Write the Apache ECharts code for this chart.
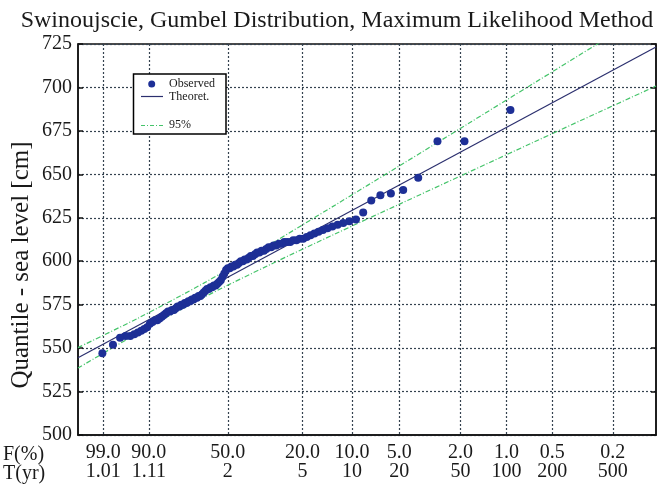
<!DOCTYPE html>
<html>
<head>
<meta charset="utf-8">
<script src="https://cdn.jsdelivr.net/npm/echarts@6/dist/echarts.min.js"></script>
<style>html,body{margin:0;padding:0;background:#fff;}#c{width:658px;height:486px;}</style>
</head>
<body>
<div id="c"></div>
<script>
// ---- data ----
const titleText = 'Swinoujscie, Gumbel Distribution, Maximum Likelihood Method';
const yAxisTitle = 'Quantile - sea level [cm]';
// exceedance probabilities of the x tick marks
const tickExceed = [0.99, 0.9, 0.5, 0.2, 0.1, 0.05, 0.02, 0.01, 0.005, 0.002];
const tickLabelsF = ['99.0', '90.0', '50.0', '20.0', '10.0', '5.0', '2.0', '1.0', '0.5', '0.2'];
const tickLabelsT = ['1.01', '1.11', '2', '5', '10', '20', '50', '100', '200', '500'];
// observed annual maxima [cm], sorted descending (rank 1 = largest)
const observed = [687, 669, 669, 648, 641, 639, 638, 635, 628, 624, 623, 622, 621, 620,
  619, 618, 617, 616, 615, 614, 613, 613, 612, 612, 611, 611, 611, 610, 610, 609, 609,
  608, 608, 607, 606, 606, 605, 605, 604, 603, 603, 602, 601, 601, 600, 600, 599, 598,
  598, 597, 597, 596, 596, 595, 593, 591, 589, 588, 587, 586, 586, 585, 585, 584, 584,
  583, 582, 581, 580, 580, 579, 579, 578, 578, 577, 577, 576, 576, 575, 575, 574, 574,
  573, 572, 572, 571, 571, 570, 569, 568, 567, 566, 566, 565, 564, 562, 561, 560, 559,
  558, 557, 557, 556, 552, 547];
// theoretical line (reduced variate, quantile)
const theoX = [-1.91, 6.87];
const theoQ = [544.4, 723.3];
// 95% confidence band (reduced variate, upper, lower)
const bandX = [-1.91, -1, 0, 1, 2, 3, 4, 5, 6, 6.87];
const bandUpper = [550.3, 567.2, 587.4, 609.5, 632.4, 655.5, 678.8, 702.1, 725.5, 745.8];
const bandLower = [538.5, 558.6, 579.2, 597.9, 615.8, 633.3, 650.8, 668.3, 685.7, 700.8];

// ---- build ----
const gumbel = p => -Math.log(-Math.log(1 - p)); // p = exceedance probability
const tickPos = tickExceed.map(gumbel);
const n = observed.length;
const obsData = observed.map((v, i) => [gumbel((i + 1) / (n + 1)), v]);
const theoData = theoX.map((x, i) => [x, theoQ[i]]);
const upData = bandX.map((x, i) => [x, bandUpper[i]]);
const loData = bandX.map((x, i) => [x, bandLower[i]]);

const FONT = 'Liberation Serif';
const DOT = '#1d2f96';
const LINE = '#2b2f6e';
const GREEN = '#45c46a';
const GRIDC = '#34424f';

const chart = echarts.init(document.getElementById('c'), null, {renderer: 'canvas'});
chart.setOption({
  animation: false,
  backgroundColor: '#fff',
  grid: {left: 78, right: 2, top: 44, bottom: 51, show: true, borderColor: '#111', borderWidth: 1.5, backgroundColor: '#fff'},
  xAxis: {
    type: 'value', min: -1.91, max: 6.87,
    axisLine: {show: true, onZero: false, lineStyle: {color: '#111', width: 1.5}},
    axisTick: {show: false, customValues: tickPos},
    axisLabel: {
      customValues: tickPos, margin: 8, color: '#1a1a1a',
      fontFamily: FONT, fontSize: 20, lineHeight: 19,
      formatter: function (v) {
        let k = 0, best = 1e9;
        tickPos.forEach((t, j) => { const d = Math.abs(t - v); if (d < best) { best = d; k = j; } });
        return tickLabelsF[k] + '\n' + tickLabelsT[k];
      }
    },
    splitLine: {show: true, lineStyle: {color: GRIDC, width: 1.2, type: [2, 2]}}
  },
  yAxis: [{
    type: 'value', min: 500, max: 725, interval: 25,
    axisLine: {show: true, onZero: false, lineStyle: {color: '#111', width: 1.5}},
    axisTick: {show: true, inside: true, length: 5, lineStyle: {color: '#111', width: 1.5}},
    axisLabel: {margin: 6, color: '#1a1a1a', fontFamily: FONT, fontSize: 20},
    splitLine: {show: true, lineStyle: {color: GRIDC, width: 1.2, type: [2, 2]}}
  }, {
    type: 'value', min: 500, max: 725, interval: 25, position: 'right',
    axisLine: {show: true, onZero: false, lineStyle: {color: '#111', width: 1.5}},
    axisTick: {show: true, inside: true, length: 5, lineStyle: {color: '#111', width: 1.5}},
    axisLabel: {show: false},
    splitLine: {show: false}
  }],
  series: [
    {type: 'line', data: upData, showSymbol: false, smooth: 0.3, clip: true, silent: true,
     lineStyle: {color: GREEN, width: 1.2, type: [5, 2, 1, 2]}},
    {type: 'line', data: loData, showSymbol: false, smooth: 0.3, clip: true, silent: true,
     lineStyle: {color: GREEN, width: 1.2, type: [5, 2, 1, 2]}},
    {type: 'line', data: theoData, showSymbol: false, clip: true, silent: true,
     lineStyle: {color: LINE, width: 1.2}},
    {type: 'scatter', data: obsData, symbolSize: 8, itemStyle: {color: DOT, opacity: 1}, z: 5}
  ],
  graphic: [
    {type: 'text', position: [337, 21], style: {text: titleText, fontFamily: FONT, fontSize: 24, fill: '#1a1a1a', textAlign: 'center', textVerticalAlign: 'middle'}},
    {type: 'text', position: [21, 265], rotation: Math.PI / 2, style: {text: yAxisTitle, fontFamily: FONT, fontSize: 25, fill: '#1a1a1a', textAlign: 'center', textVerticalAlign: 'middle'}},
    {type: 'text', position: [3, 455], style: {text: 'F(%)', fontFamily: FONT, fontSize: 20, fill: '#1a1a1a', textAlign: 'left', textVerticalAlign: 'middle'}},
    {type: 'text', position: [3, 474], style: {text: 'T(yr)', fontFamily: FONT, fontSize: 20, fill: '#1a1a1a', textAlign: 'left', textVerticalAlign: 'middle'}},
    {type: 'rect', z: 100, shape: {x: 133.5, y: 74, width: 92.5, height: 60}, style: {fill: '#fff', stroke: '#000', lineWidth: 1.5}},
    {type: 'circle', z: 101, shape: {cx: 151.7, cy: 84, r: 3.5}, style: {fill: DOT}},
    {type: 'text', z: 101, position: [169, 84], style: {text: 'Observed', fontFamily: FONT, fontSize: 12, fill: '#1a1a1a', textVerticalAlign: 'middle'}},
    {type: 'line', z: 101, shape: {x1: 141, y1: 96.5, x2: 163, y2: 96.5}, style: {stroke: LINE, lineWidth: 1.2}},
    {type: 'text', z: 101, position: [169, 97], style: {text: 'Theoret.', fontFamily: FONT, fontSize: 12, fill: '#1a1a1a', textVerticalAlign: 'middle'}},
    {type: 'line', z: 101, shape: {x1: 141, y1: 125.5, x2: 163, y2: 125.5}, style: {stroke: GREEN, lineWidth: 1.2, lineDash: [4, 2, 1, 2]}},
    {type: 'text', z: 101, position: [169, 125], style: {text: '95%', fontFamily: FONT, fontSize: 12, fill: '#1a1a1a', textVerticalAlign: 'middle'}}
  ]
});
</script>
</body>
</html>
